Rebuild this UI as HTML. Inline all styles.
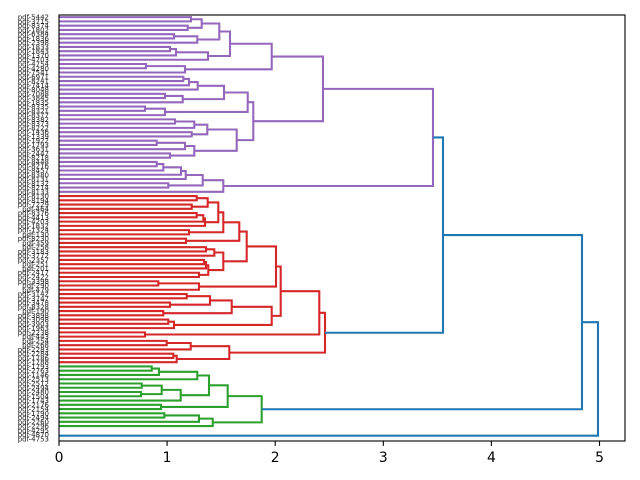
<!DOCTYPE html>
<html><head><meta charset="utf-8"><style>
html,body{margin:0;padding:0;background:#fff;}
svg{display:block;}
.l text{font-family:"DejaVu Sans","Liberation Sans",sans-serif;font-size:7px;fill:#222;text-anchor:end;}
.t{font-family:"DejaVu Sans","Liberation Sans",sans-serif;font-size:13.9px;fill:#000;text-anchor:middle;}
</style></head><body>
<svg width="640" height="480" viewBox="0 0 640 480" xmlns="http://www.w3.org/2000/svg">
<rect width="640" height="480" fill="#fff"/>
<g fill="none" stroke-width="2.08" stroke-linejoin="miter">
<path stroke="#9467bd" d="
M59 17.13H191V21.39H59
M59 25.65H187.7V29.91H59
M191 19.26H201.7V27.78H187.7
M59 34.17H174V38.43H59
M174 36.3H197.3V42.69H59
M201.7 23.52H219.3V39.5H197.3
M59 46.95H170V51.21H59
M170 49.08H176V55.47H59
M176 52.28H208V59.73H59
M219.3 31.51H230V56H208
M59 63.99H146V68.25H59
M146 66.12H185V72.51H59
M230 43.76H271.7V69.32H185
M59 76.77H183.3V81.03H59
M183.3 78.9H189V85.29H59
M189 82.1H197.7V89.55H59
M59 93.81H165V98.07H59
M165 95.94H182.7V102.33H59
M197.7 85.82H224V99.14H182.7
M59 106.59H145V110.85H59
M145 108.72H165V115.11H59
M224 92.48H247.7V111.92H165
M59 119.37H175V123.63H59
M175 121.5H194.3V127.89H59
M59 132.15H191.7V136.41H59
M194.3 124.7H207.3V134.28H191.7
M59 140.67H156.7V144.93H59
M156.7 142.8H185V149.19H59
M59 153.45H170V157.71H59
M185 146H194.3V155.58H170
M207.3 129.49H236.7V150.79H194.3
M247.7 102.2H253.3V140.14H236.7
M271.7 56.54H323V121.17H253.3
M59 161.97H156.7V166.23H59
M156.7 164.1H163.3V170.49H59
M163.3 167.3H181V174.75H59
M181 171.02H185.7V179.01H59
M59 183.27H168.3V187.53H59
M185.7 175.02H202.7V185.4H168.3
M202.7 180.21H223.3V191.79H59
M323 88.86H433V186H223.3"/>
<path stroke="#d62728" d="
M59 196.05H196.7V200.31H59
M59 204.57H191.7V208.83H59
M196.7 198.18H207.7V206.7H191.7
M59 213.09H196.7V217.35H59
M196.7 215.22H203.3V221.61H59
M203.3 218.42H205V225.87H59
M207.7 202.44H218.3V222.15H205
M59 230.13H189V234.39H59
M218.3 212.3H223.3V232.26H189
M59 238.65H186V242.91H59
M223.3 222.28H239.3V240.78H186
M59 247.17H206V251.43H59
M206 249.3H214.3V255.69H59
M59 259.95H204V264.21H59
M204 262.08H206V268.47H59
M59 272.73H199V276.99H59
M206 265.28H208.3V274.86H199
M214.3 252.5H223.3V270.07H208.3
M239.3 231.53H246.7V261.28H223.3
M59 281.25H158.3V285.51H59
M158.3 283.38H199V289.77H59
M246.7 246.4H276V286.58H199
M59 294.03H186.7V298.29H59
M59 302.55H170V306.81H59
M186.7 296.16H210V304.68H170
M59 311.07H163.3V315.33H59
M210 300.42H231.7V313.2H163.3
M59 319.59H168.3V323.85H59
M168.3 321.72H174V328.11H59
M231.7 306.81H271.7V324.92H174
M276 266.49H280.7V315.86H271.7
M59 332.37H145V336.63H59
M280.7 291.18H319.3V334.5H145
M59 340.89H166.7V345.15H59
M166.7 343.02H190.7V349.41H59
M59 353.67H173.3V357.93H59
M173.3 355.8H176.7V362.19H59
M190.7 346.22H229.3V359H176.7
M319.3 312.84H325V352.61H229.3"/>
<path stroke="#2ca02c" d="
M59 366.45H151.7V370.71H59
M151.7 368.58H159V374.97H59
M159 371.78H197.3V379.23H59
M59 383.49H141.7V387.75H59
M59 392.01H141V396.27H59
M141.7 385.62H161.7V394.14H141
M161.7 389.88H180.7V400.53H59
M197.3 375.5H209V395.2H180.7
M59 404.79H161V409.05H59
M209 385.35H227.7V406.92H161
M59 413.31H164.3V417.57H59
M164.3 415.44H199V421.83H59
M199 418.64H212.7V426.09H59
M227.7 396.14H261.7V422.36H212.7"/>
<path stroke="#1f77b4" d="
M433 137.43H443V332.73H325
M443 235.08H582V409.25H261.7
M582 322.17H598V435.68H59"/>
</g>
<rect x="59" y="15" width="566" height="426" fill="none" stroke="#000" stroke-width="1.11"/>
<g stroke="#000" stroke-width="1.11">
<line x1="59" y1="441" x2="59" y2="445.9"/>
<line x1="167.1" y1="441" x2="167.1" y2="445.9"/>
<line x1="275.2" y1="441" x2="275.2" y2="445.9"/>
<line x1="383.3" y1="441" x2="383.3" y2="445.9"/>
<line x1="491.4" y1="441" x2="491.4" y2="445.9"/>
<line x1="599.5" y1="441" x2="599.5" y2="445.9"/>
</g>
<text class="t" x="59" y="462">0</text>
<text class="t" x="167.1" y="462">1</text>
<text class="t" x="275.2" y="462">2</text>
<text class="t" x="383.3" y="462">3</text>
<text class="t" x="491.4" y="462">4</text>
<text class="t" x="599.5" y="462">5</text>
<g class="l">
<text x="49" y="19.63">pdf-5442</text>
<text x="49" y="23.89">pdf-3715</text>
<text x="49" y="28.15">pdf-8374</text>
<text x="49" y="32.41">pdf-1802</text>
<text x="49" y="36.67">pdf-6384</text>
<text x="49" y="40.93">pdf-1836</text>
<text x="49" y="45.19">pdf-2398</text>
<text x="49" y="49.45">pdf-1833</text>
<text x="49" y="53.71">pdf-1843</text>
<text x="49" y="57.97">pdf-1370</text>
<text x="49" y="62.23">pdf-4703</text>
<text x="49" y="66.49">pdf-4754</text>
<text x="49" y="70.75">pdf-4280</text>
<text x="49" y="75.01">pdf-7541</text>
<text x="49" y="79.27">pdf-6971</text>
<text x="49" y="83.53">pdf-8241</text>
<text x="49" y="87.79">pdf-7414</text>
<text x="49" y="92.05">pdf-8048</text>
<text x="49" y="96.31">pdf-7088</text>
<text x="49" y="100.57">pdf-3845</text>
<text x="49" y="104.83">pdf-1835</text>
<text x="49" y="109.09">pdf-8335</text>
<text x="49" y="113.35">pdf-8321</text>
<text x="49" y="117.61">pdf-8377</text>
<text x="49" y="121.87">pdf-8382</text>
<text x="49" y="126.13">pdf-8373</text>
<text x="49" y="130.39">pdf-8222</text>
<text x="49" y="134.65">pdf-1436</text>
<text x="49" y="138.91">pdf-1339</text>
<text x="49" y="143.17">pdf-1922</text>
<text x="49" y="147.43">pdf-1793</text>
<text x="49" y="151.69">pdf-3631</text>
<text x="49" y="155.95">pdf-2447</text>
<text x="49" y="160.21">pdf-8218</text>
<text x="49" y="164.47">pdf-8448</text>
<text x="49" y="168.73">pdf-8216</text>
<text x="49" y="172.99">pdf-8457</text>
<text x="49" y="177.25">pdf-8380</text>
<text x="49" y="181.51">pdf-8131</text>
<text x="49" y="185.77">pdf-8132</text>
<text x="49" y="190.03">pdf-8214</text>
<text x="49" y="194.29">pdf-8133</text>
<text x="49" y="198.55">pdf-8130</text>
<text x="49" y="202.81">pdf-8194</text>
<text x="49" y="207.07">pdf-7229</text>
<text x="49" y="211.33">pdf-464</text>
<text x="49" y="215.59">pdf-8376</text>
<text x="49" y="219.85">pdf-4413</text>
<text x="49" y="224.11">pdf-4203</text>
<text x="49" y="228.37">pdf-1832</text>
<text x="49" y="232.63">pdf-1324</text>
<text x="49" y="236.89">pdf-130</text>
<text x="49" y="241.15">pdf-8230</text>
<text x="49" y="245.41">pdf-359</text>
<text x="49" y="249.67">pdf-258</text>
<text x="49" y="253.93">pdf-3183</text>
<text x="49" y="258.19">pdf-3772</text>
<text x="49" y="262.45">pdf-2357</text>
<text x="49" y="266.71">pdf-251</text>
<text x="49" y="270.97">pdf-201</text>
<text x="49" y="275.23">pdf-2417</text>
<text x="49" y="279.49">pdf-2422</text>
<text x="49" y="283.75">pdf-3398</text>
<text x="49" y="288.01">pdf-290</text>
<text x="49" y="292.27">pdf-479</text>
<text x="49" y="296.53">pdf-3142</text>
<text x="49" y="300.79">pdf-3747</text>
<text x="49" y="305.05">pdf-3478</text>
<text x="49" y="309.31">pdf-8328</text>
<text x="49" y="313.57">pdf-190</text>
<text x="49" y="317.83">pdf-3898</text>
<text x="49" y="322.09">pdf-3098</text>
<text x="49" y="326.35">pdf-3903</text>
<text x="49" y="330.61">pdf-1963</text>
<text x="49" y="334.87">pdf-2238</text>
<text x="49" y="339.13">pdf-443</text>
<text x="49" y="343.39">pdf-254</text>
<text x="49" y="347.65">pdf-268</text>
<text x="49" y="351.91">pdf-2283</text>
<text x="49" y="356.17">pdf-2284</text>
<text x="49" y="360.43">pdf-1786</text>
<text x="49" y="364.69">pdf-1788</text>
<text x="49" y="368.95">pdf-1793</text>
<text x="49" y="373.21">pdf-2763</text>
<text x="49" y="377.47">pdf-1146</text>
<text x="49" y="381.73">pdf-2513</text>
<text x="49" y="385.99">pdf-2512</text>
<text x="49" y="390.25">pdf-2494</text>
<text x="49" y="394.51">pdf-2480</text>
<text x="49" y="398.77">pdf-1504</text>
<text x="49" y="403.03">pdf-1743</text>
<text x="49" y="407.29">pdf-2176</text>
<text x="49" y="411.55">pdf-2154</text>
<text x="49" y="415.81">pdf-1790</text>
<text x="49" y="420.07">pdf-2494</text>
<text x="49" y="424.33">pdf-2260</text>
<text x="49" y="428.59">pdf-2296</text>
<text x="49" y="432.85">pdf-4295</text>
<text x="49" y="437.11">pdf-4870</text>
<text x="49" y="441.37">pdf-4753</text>
</g>
</svg>
</body></html>
